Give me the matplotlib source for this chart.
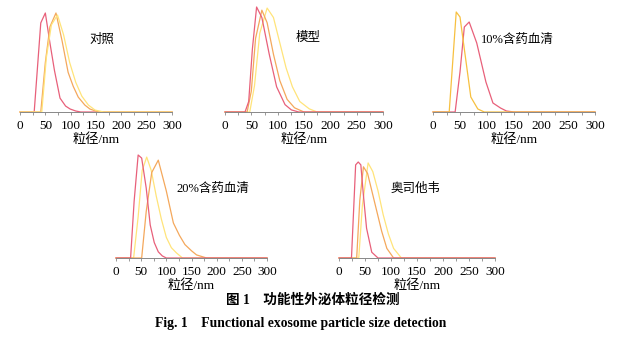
"""
    Particle size distribution panels for functional exosomes.
"""

import matplotlib.pyplot as plt
from matplotlib.ticker import MultipleLocator

plt.rcParams['font.family'] = ['Liberation Serif', 'Noto Sans CJK SC']

RED = '#e8607a'
ORANGE = '#f4a85c'
YELLOW = '#ffe47a'
GOLD = '#f7c040'

# Panel titles
titles = ['对照', '模型', '10%含药血清', '20%含药血清', '奥司他韦']

# 对照
ctrl_red_x = [0, 28, 41, 50, 59, 68, 79, 90, 99, 110, 120, 300]
ctrl_red_y = [0, 0, 90, 100, 70, 42, 14, 6, 3, 1, 0, 0]
ctrl_orange_x = [0, 41, 50, 59, 71, 83, 95, 105, 115, 128, 138, 155, 300]
ctrl_orange_y = [0, 0, 50, 86, 100, 72, 40, 26, 15, 7, 3, 0, 0]
ctrl_yellow_x = [0, 43, 52, 62, 74, 86, 98, 110, 122, 135, 148, 165, 300]
ctrl_yellow_y = [0, 0, 55, 88, 98, 78, 50, 30, 16, 7, 2, 0, 0]

# 模型
model_red_x = [0, 38, 45, 52, 60, 70, 84, 98, 114, 126, 140, 300]
model_red_y = [0, 0, 10, 60, 100, 90, 55, 24, 7, 2, 0, 0]
model_orange_x = [0, 42, 50, 58, 70, 80, 92, 104, 118, 132, 150, 300]
model_orange_y = [0, 0, 20, 70, 97, 85, 55, 30, 12, 4, 0, 0]
model_yellow_x = [0, 47, 56, 66, 80, 92, 104, 116, 128, 142, 160, 175, 300]
model_yellow_y = [0, 0, 25, 75, 99, 90, 66, 42, 24, 10, 3, 0, 0]

# 10%含药血清
s10_gold_x = [0, 30, 43, 50, 60, 70, 83, 95, 300]
s10_gold_y = [0, 0, 100, 95, 55, 15, 3, 0, 0]
s10_red_x = [0, 41, 50, 58, 67, 81, 98, 111, 125, 136, 150, 300]
s10_red_y = [0, 0, 40, 85, 90, 69, 30, 9, 4, 1, 0, 0]

# 20%含药血清
s20_red_x = [0, 29, 36, 44, 51, 60, 68, 76, 84, 92, 100, 300]
s20_red_y = [0, 0, 55, 100, 97, 68, 32, 15, 6, 2, 0, 0]
s20_yellow_x = [0, 35, 44, 52, 61, 70, 80, 90, 100, 110, 120, 132, 300]
s20_yellow_y = [0, 0, 40, 85, 98, 85, 60, 38, 20, 10, 5, 0, 0]
s20_orange_x = [0, 51, 60, 71, 84, 100, 114, 126, 137, 150, 160, 180, 300]
s20_orange_y = [0, 0, 45, 83, 95, 65, 34, 22, 13, 7, 3, 0, 0]

# 奥司他韦
ost_red_x = [0, 24, 32, 37, 42, 47, 53, 63, 75, 300]
ost_red_y = [0, 0, 97, 100, 97, 65, 31, 6, 0, 0]
ost_orange_x = [0, 34, 40, 47, 55, 64, 73, 82, 92, 105, 300]
ost_orange_y = [0, 0, 60, 95, 88, 68, 48, 28, 10, 0, 0]
ost_yellow_x = [0, 38, 45, 56, 65, 75, 85, 95, 105, 120, 300]
ost_yellow_y = [0, 0, 55, 99, 90, 70, 45, 25, 10, 0, 0]

panels = [
    ([ctrl_red_x, ctrl_orange_x, ctrl_yellow_x],
     [ctrl_red_y, ctrl_orange_y, ctrl_yellow_y], [RED, ORANGE, YELLOW]),
    ([model_yellow_x, model_orange_x, model_red_x],
     [model_yellow_y, model_orange_y, model_red_y], [YELLOW, ORANGE, RED]),
    ([s10_red_x, s10_gold_x], [s10_red_y, s10_gold_y], [RED, GOLD]),
    ([s20_yellow_x, s20_orange_x, s20_red_x],
     [s20_yellow_y, s20_orange_y, s20_red_y], [YELLOW, ORANGE, RED]),
    ([ost_yellow_x, ost_orange_x, ost_red_x],
     [ost_yellow_y, ost_orange_y, ost_red_y], [YELLOW, ORANGE, RED]),
]

# Axes boxes in pixels: x of 0 nm, baseline y, width of 300 nm, height of peak
W, H = 626, 351
boxes = [
    (20, 112, 152, 99),
    (225, 112, 158, 105),
    (433, 112, 162, 100),
    (116, 258, 151, 103),
    (339, 258, 156, 96),
]
# title positions (pixels)
title_pos = [(102, 40), (308, 38), (517, 40), (213, 189), (416, 189)]

fig = plt.figure(figsize=(W / 100, H / 100), dpi=100)

for (xs, ys, cols), (x0, yb, w, h), title, (tx, ty) in zip(panels, boxes, titles, title_pos):
    ax = fig.add_axes([x0 / W, 1 - yb / H, w / W, h / H])
    for x, y, c in zip(xs, ys, cols):
        ax.plot(x, y, color=c, lw=0.9, clip_on=False)
    ax.set_xlim(0, 300)
    ax.set_ylim(0, 100)
    for s in ['left', 'right', 'top']:
        ax.spines[s].set_visible(False)
    ax.spines['bottom'].set_color('#888888')
    ax.spines['bottom'].set_linewidth(0.7)
    ax.set_yticks([])
    ax.xaxis.set_major_locator(MultipleLocator(50))
    ax.xaxis.set_minor_locator(MultipleLocator(25))
    ax.tick_params(axis='x', which='both', direction='out', length=2,
                   width=0.6, color='#888888', labelsize=9.5, pad=4)
    ax.set_xlabel('粒径/nm', fontsize=9.5, labelpad=1)
    ax.patch.set_alpha(0)
    fig.text(tx / W, 1 - ty / H, title, fontsize=9,
             ha='center', va='center')

fig.text(313 / W, 1 - 300 / H, '图 1    功能性外泌体粒径检测', fontsize=9.8,
         ha='center', va='center', fontweight='bold')
fig.text(301 / W, 1 - 323 / H, 'Fig. 1    Functional exosome particle size detection',
         fontsize=9.8, ha='center', va='center', fontweight='bold')

plt.savefig('out.png', dpi=100)
plt.close()
